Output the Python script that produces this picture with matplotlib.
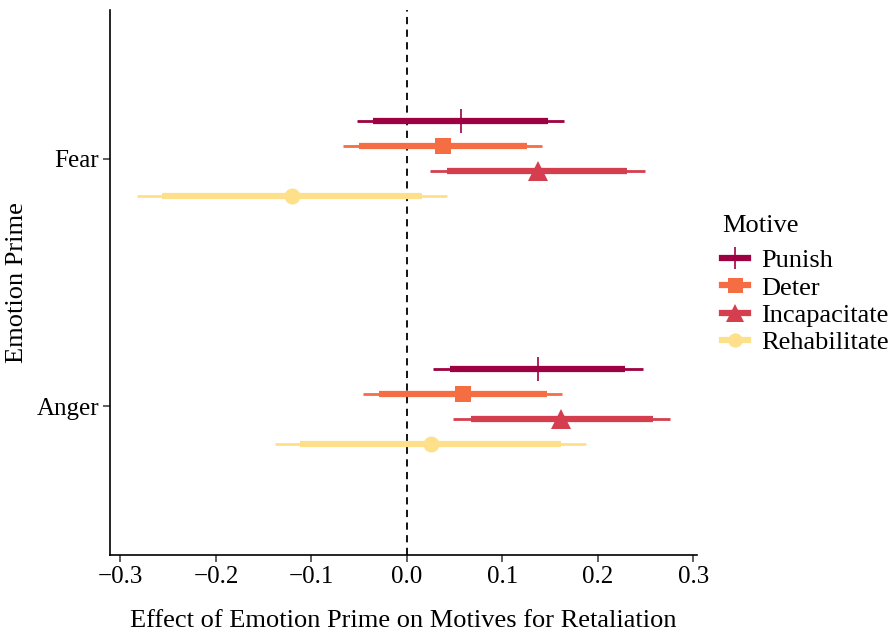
import numpy as np
import matplotlib
matplotlib.use("Agg")
from matplotlib import pyplot as plt
from matplotlib.lines import Line2D

plt.rcParams['font.family'] = ['Liberation Serif', 'DejaVu Serif']
plt.rcParams['font.size'] = 19

# estimates: point, inner (thick) and outer (thin) intervals
primes = ['Anger', 'Fear']
motives = ['Punish', 'Deter', 'Incapacitate', 'Rehabilitate']
colors = ['#9E0142', '#F46D43', '#D53E4F', '#FEE08B']
markers = ['|', 's', '^', 'o']
msizes = [17, 12, 14, 11.5]

# rows: motives, cols: Anger, Fear
est = np.array([[0.137, 0.057],
                [0.059, 0.038],
                [0.162, 0.137],
                [0.025, -0.120]])
lo_in = np.array([[0.045, -0.035],
                  [-0.029, -0.050],
                  [0.067, 0.042],
                  [-0.112, -0.257]])
hi_in = np.array([[0.229, 0.148],
                  [0.147, 0.126],
                  [0.258, 0.231],
                  [0.162, 0.016]])
lo_out = np.array([[0.027, -0.052],
                   [-0.046, -0.067],
                   [0.048, 0.024],
                   [-0.138, -0.283]])
hi_out = np.array([[0.247, 0.165],
                   [0.163, 0.142],
                   [0.276, 0.250],
                   [0.188, 0.042]])

fig = plt.figure(figsize=(8.93, 6.33), dpi=100)
ax = fig.add_axes([110/893, 1-555/633, (697-110)/893, (555-10)/633])

offsets = [0.15, 0.05, -0.05, -0.15]
base = np.arange(1, len(primes) + 1)
for i, m in enumerate(motives):
    y = base + offsets[i]
    ax.hlines(y, lo_out[i], hi_out[i], color=colors[i], lw=2, zorder=2)
    ax.hlines(y, lo_in[i], hi_in[i], color=colors[i], lw=4.5, zorder=3)
    if markers[i] == '|':
        ax.plot(est[i], y, ls='none', marker='|', ms=msizes[i], mew=1.2,
                color=colors[i], zorder=4)
    else:
        ax.plot(est[i], y, ls='none', marker=markers[i], ms=msizes[i], mew=0,
                color=colors[i], zorder=4)

ax.axvline(0, color='black', ls=(0, (4, 3)), lw=1.3, zorder=1)

ax.set_xlim(-0.311, 0.304)
ax.set_ylim(0.4, 2.6)
ax.set_xticks([-0.3, -0.2, -0.1, 0.0, 0.1, 0.2, 0.3])
ax.set_xticklabels(['\u22120.3', '\u22120.2', '\u22120.1', '0.0', '0.1', '0.2', '0.3'])
ax.set_yticks(base)
ax.set_yticklabels(primes)
ax.set_xlabel('Effect of Emotion Prime on Motives for Retaliation', labelpad=16)
ax.set_ylabel('Emotion Prime', labelpad=6)

for s in ['top', 'right']:
    ax.spines[s].set_visible(False)
for s in ['left', 'bottom']:
    ax.spines[s].set_linewidth(1.2)
ax.tick_params(length=5, width=1.1, color='#333333', labelcolor='black',
               labelsize=18, pad=3)

handles = []
for i, m in enumerate(motives):
    handles.append(Line2D([0], [0], color=colors[i], lw=4.5, marker=markers[i],
                          ms=msizes[i] * 0.9, mew=1.2 if markers[i] == '|' else 0))
fig.text(722/893, 1-226/633, 'Motive', ha='left', va='center')
leg = fig.legend(handles, motives, loc='upper left',
                 bbox_to_anchor=(722/893, 1-249/633), frameon=False,
                 handlelength=1.0, handletextpad=0.5, labelspacing=0.14,
                 borderpad=0, borderaxespad=0)

plt.savefig('out.png', dpi=100)
